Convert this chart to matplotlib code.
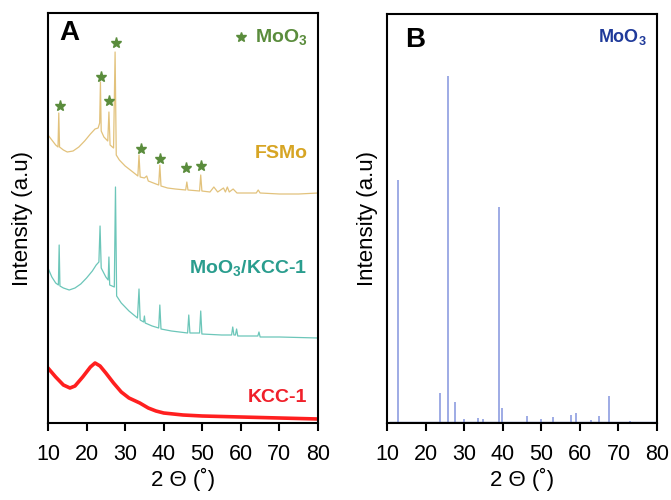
import matplotlib
matplotlib.use("Agg")
import matplotlib.pyplot as plt

plt.rcParams['font.family'] = ['Liberation Sans', 'DejaVu Sans']
plt.rcParams['mathtext.default'] = 'regular'

# ---- panel A: XRD traces (2theta, intensity) ----
fsmo_2t = [10.0, 11.0, 12.0, 12.6, 12.8, 13.0, 14.0, 15.0, 16.5, 18.0, 19.5, 21.0, 22.2, 23.0, 23.4,
           23.6, 23.8, 24.5, 25.5, 25.8, 26.1, 27.0, 27.4, 27.7, 28.5, 30.0, 32.0, 33.3, 33.6, 33.9,
           35.0, 35.6, 36.0, 38.0, 38.7, 39.0, 39.3, 41.0, 43.0, 45.7, 46.0, 46.3, 49.3, 49.6, 49.9,
           52.0, 53.0, 54.0, 55.5, 56.0, 56.5, 57.0, 58.0, 59.0, 60.0, 64.0, 64.5, 65.0, 70.0, 75.0, 80.0]
fsmo_int = [288, 283, 278, 276, 310, 276, 273, 271, 272, 276, 282, 289, 294, 295, 300,
            341, 292, 286, 282, 311, 278, 275, 371, 268, 263, 257, 251, 247, 268, 246,
            245, 247, 242, 239, 238, 258, 237, 235, 234, 233, 241, 233, 232, 248, 232,
            231, 236, 231, 235, 231, 236, 231, 234, 230, 230, 230, 233, 230, 229, 229, 230]

teal_2t = [10.0, 11.0, 12.0, 12.7, 12.9, 13.1, 14.0, 15.5, 17.0, 18.5, 20.0, 21.5, 22.5, 23.2,
           23.5, 23.8, 25.0, 25.6, 25.8, 26.0, 27.2, 27.5, 27.8, 29.0, 31.0, 33.2, 33.6, 33.9,
           34.8, 35.0, 35.2, 37.0, 38.7, 39.0, 39.3, 42.0, 46.2, 46.5, 46.8, 49.3, 49.6, 49.9,
           55.0, 57.6, 57.9, 58.2, 58.6, 58.9, 59.2, 64.4, 64.7, 65.0, 70.0, 80.0]
teal_int = [155, 146, 140, 138, 178, 137, 135, 133, 135, 139, 145, 152, 158, 161,
            197, 155, 146, 143, 166, 138, 136, 236, 127, 120, 112, 105, 134, 103,
            101, 107, 100, 97, 95, 118, 94, 92, 90, 108, 90, 90, 112, 89,
            88, 88, 96, 88, 88, 94, 87, 87, 91, 86, 86, 85]

kcc_2t = [10, 12, 14, 15.7, 17, 19, 21, 22.2, 23.5, 25, 27, 29, 31, 33.8, 36, 38, 40, 45, 50, 60, 70, 80]
kcc_int = [55, 46, 38, 35, 37, 46, 56, 60, 57, 50, 40, 31, 25, 20, 15, 12, 10, 8, 7, 6, 5, 4]

star_2t = [13.0, 23.7, 25.7, 27.6, 34.1, 39.0, 45.7, 49.8]
star_int = [317, 346, 322, 380, 274, 264, 255, 257]

# ---- panel B: MoO3 reference pattern (stick lines) ----
ref_2t = [12.9, 23.7, 25.9, 27.6, 29.9, 33.7, 35.0, 39.0, 39.8, 46.3, 50.0, 52.9, 57.8, 58.9,
          63.0, 65.0, 67.6, 73.0]
ref_int = [243, 30, 347, 21, 4, 5, 4, 216, 15, 7, 4, 6, 8, 10, 3, 7, 27, 2]

star_col = '#5a8c3c'
fig = plt.figure(figsize=(6.71, 5.0), dpi=100)
axA = fig.add_axes([0.0715, 0.154, 0.4024, 0.82])
axB = fig.add_axes([0.5768, 0.154, 0.4024, 0.818])

axA.plot(fsmo_2t, fsmo_int, color='#e2c27c', lw=0.9)
axA.plot(teal_2t, teal_int, color='#6cc6b9', lw=0.9)
axA.plot(kcc_2t, kcc_int, color='#ff1f1f', lw=2.6)
axA.plot(star_2t, star_int, ls='none', marker='*', ms=8, color=star_col)
axA.set_ylim(0, 410)

axA.plot([60.0], [386], ls='none', marker='*', ms=7, color=star_col)
axA.text(77.3, 386, 'MoO$_3$', color=star_col, fontsize=14, fontweight='bold',
         ha='right', va='center')
axA.text(77.3, 269, 'FSMo', color='#d7a524', fontsize=14, fontweight='bold',
         ha='right', va='center')
axA.text(77.3, 155, 'MoO$_3$/KCC-1', color='#2a9d8e', fontsize=14, fontweight='bold',
         ha='right', va='center')
axA.text(77.3, 25, 'KCC-1', color='#f0202a', fontsize=14, fontweight='bold',
         ha='right', va='center')
axA.text(0.042, 0.951, 'A', transform=axA.transAxes, fontsize=20, fontweight='bold',
         ha='left', va='center')

axB.vlines(ref_2t, 0, ref_int, color='#8e9de0', lw=1.2)
axB.hlines(1.5, 10.5, 80, color='#5a6aa8', lw=1.0)
axB.set_ylim(0, 409)
axB.text(77.3, 386, 'MoO$_3$', color='#1f3a9a', fontsize=13, fontweight='bold',
         ha='right', va='center')
axB.text(0.067, 0.936, 'B', transform=axB.transAxes, fontsize=20, fontweight='bold',
         ha='left', va='center')

for ax, ylx in ((axA, -0.056), (axB, -0.033)):
    ax.set_xlim(10, 80)
    ax.set_xticks(range(10, 81, 10))
    ax.set_yticks([])
    ax.tick_params(axis='x', direction='out', length=6, width=1.5, labelsize=15.5, pad=9)
    for s in ax.spines.values():
        s.set_linewidth(1.5)
    ax.set_ylabel('Intensity (a.u)', fontsize=16)
    ax.yaxis.set_label_coords(ylx, 0.5)
    ax.set_xlabel('2 \u0398 (\u02da)', fontsize=16)
    ax.xaxis.set_label_coords(0.5, -0.11)

fig.savefig('out.png', dpi=100)
